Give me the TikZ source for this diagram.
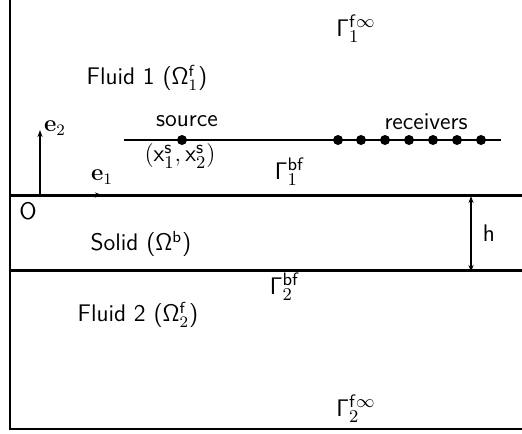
\documentclass[tikz,border=0pt]{standalone}
\usetikzlibrary{arrows.meta}
\renewcommand{\familydefault}{\sfdefault}
\begin{document}
\begin{tikzpicture}[x=0.5pt,y=-0.5pt,
  iface/.style={line width=1.5pt},
  frame/.style={line width=1pt},
  axis/.style={line width=0.8pt,-{Stealth[length=3.5pt,width=2.5pt]}},
  dot/.style={circle,fill=black,inner sep=0pt,minimum size=5pt},
  lbl/.style={inner sep=0pt,font=\fontsize{12}{14}\selectfont},
  glbl/.style={inner sep=0pt,font=\fontsize{13}{15}\selectfont}]
\useasboundingbox (0,0) rectangle (522,433);
% frame
\coordinate (tl) at (10,0);
\coordinate (bl) at (10,429);
\coordinate (br) at (522,429);
\draw[frame] (tl) -- (bl) -- (br);
% interfaces
\coordinate (i1l) at (10,195);
\coordinate (i1r) at (522,195);
\coordinate (i2l) at (10,270);
\coordinate (i2r) at (522,270);
\draw[iface] (i1l) -- (i1r);
\draw[iface] (i2l) -- (i2r);
% axes
\coordinate (O) at (40,195);
\coordinate (e2end) at (40,130);
\coordinate (e1end) at (102,195);
\draw[axis] (O) -- (e2end);
\draw[axis] (O) -- (e1end);
\node[lbl] (e2) at (55,128) {$\mathbf{e}_2$};
\node[lbl] (e1) at (102,177) {$\mathbf{e}_1$};
\node[lbl] (o) at (28,211) {O};
% source line
\coordinate (sl) at (124,140);
\coordinate (sr) at (501,140);
\draw[line width=1pt] (sl) -- (sr);
\node[dot] (src) at (182,140) {};
\foreach \i/\x in {1/338,2/361,3/385,4/409,5/433,6/457,7/481}
  \node[dot] (r\i) at (\x,140) {};
\node[lbl] (srclbl) at (187,121) {source};
\node[lbl] (reclbl) at (426,122) {receivers};
\node[glbl] (srcpos) at (180,156) {$(\mathsf{x}_1^{\mathsf{s}},\mathsf{x}_2^{\mathsf{s}})$};
% labels
\node[glbl] (g1inf) at (356,29) {$\mathsf{\Gamma}_1^{\mathsf{f}\infty}$};
\node[lbl] (fluid1) at (147,78) {Fluid 1 ($\mathsf{\Omega}_1^{\mathsf{f}}$)};
\node[glbl] (g1bf) at (290,172) {$\mathsf{\Gamma}_1^{\mathsf{bf}}$};
\node[lbl] (solid) at (141,244) {Solid ($\mathsf{\Omega}^{\mathsf{b}}$)};
\node[glbl] (g2bf) at (285,287) {$\mathsf{\Gamma}_2^{\mathsf{bf}}$};
\node[lbl] (fluid2) at (138,315) {Fluid 2 ($\mathsf{\Omega}_2^{\mathsf{f}}$)};
\node[glbl] (g2inf) at (356,409) {$\mathsf{\Gamma}_2^{\mathsf{f}\infty}$};
% h arrow
\coordinate (ht) at (471,196);
\coordinate (hb) at (471,272);
\draw[line width=0.8pt,{Stealth[length=3.5pt,width=2.5pt]}-{Stealth[length=3.5pt,width=2.5pt]}] (ht) -- (hb);
\node[lbl] (h) at (489,233) {h};
\end{tikzpicture}
\end{document}
